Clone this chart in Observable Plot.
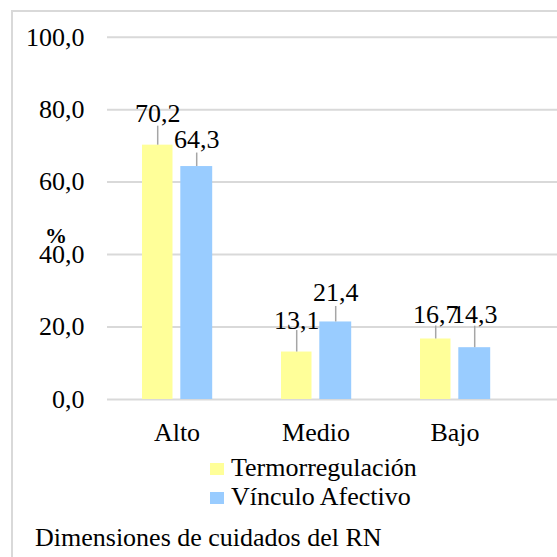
<!DOCTYPE html>
<html>
<head>
<meta charset="utf-8">
<script src="https://cdn.jsdelivr.net/npm/d3@7"></script>
<script src="https://cdn.jsdelivr.net/npm/@observablehq/plot@0.6"></script>
<style>
  @font-face { font-family: 'RefSerif'; src: local('Liberation Serif'), local('LiberationSerif'), local('LiberationSerif-Regular'), local('Times New Roman'); font-weight: normal; }
  @font-face { font-family: 'RefSerif'; src: local('Liberation Serif Bold'), local('LiberationSerif-Bold'), local('Times New Roman Bold'); font-weight: bold; }
  html, body { margin: 0; padding: 0; background: #ffffff; }
  body { position: relative; width: 557px; height: 557px; overflow: hidden; color: #000; }
  #frame { position: absolute; left: 11px; top: 10px; width: 700px; height: 700px;
           border: 2px solid #d9d9d9; box-sizing: border-box; }
  #chart { position: absolute; left: 0; top: 0; }
  .abs { position: absolute; white-space: nowrap; line-height: 29px; }
  .sw { position: absolute; width: 14px; height: 12px; }
</style>
</head>
<body style="font-family:'Liberation Serif', 'RefSerif', 'Times New Roman', Tinos, 'Nimbus Roman', 'DejaVu Serif', serif;">
<div id="frame"></div>
<div id="chart"></div>
<div id="legend"></div>
<div id="ylab" class="abs" style="left:45px; top:221px; font-size:22px; font-weight:bold;">%</div>
<div id="caption" class="abs" style="left:35px; top:523px; font-size:26px;">Dimensiones de cuidados del RN</div>
<script>
const categories = ['Alto', 'Medio', 'Bajo'];
const series = ['Termorregulación', 'Vínculo Afectivo'];
const termorregulacion = [70.2, 13.1, 16.7];
const vinculoAfectivo = [64.3, 21.4, 14.3];
const yTicks = [0, 20, 40, 60, 80, 100];

const FONT = "'Liberation Serif', 'RefSerif', 'Times New Roman', Tinos, 'Nimbus Roman', 'DejaVu Serif', serif";
const colors = ['#ffff99', '#99ccff'];
const leaderLen = [[19, 21.5, 13], [13.5, 15.5, 21.5]];
const labelLift = [[30.5, 31, 23.3], [26, 28.2, 32.2]];
const barInsets = [{left: 35, right: 73.5, dx: -19.3}, {left: 73.3, right: 33.8, dx: 19.7}];

const fmt = v => v.toFixed(1).replace('.', ',');
const values = [termorregulacion, vinculoAfectivo];

const rows = [];
series.forEach((s, si) => categories.forEach((c, ci) => rows.push({
  series: s, si, category: c, value: values[si][ci],
  lead: leaderLen[si][ci], lift: labelLift[si][ci]
})));

const marks = [
  Plot.ruleY(yTicks, {y: d => d, stroke: '#d9d9d9', strokeWidth: 2})
];
series.forEach((s, si) => {
  marks.push(Plot.barY(rows.filter(r => r.si === si), {
    x: 'category', y: 'value', fill: colors[si],
    insetLeft: barInsets[si].left, insetRight: barInsets[si].right
  }));
});
rows.forEach(r => {
  const dx = barInsets[r.si].dx;
  marks.push(Plot.ruleX([r], {
    x: 'category', y1: 'value', y2: 'value', dx,
    insetTop: -r.lead, stroke: '#a6a6a6', strokeWidth: 1.5
  }));
  marks.push(Plot.text([r], {
    x: 'category', y: 'value', text: d => fmt(d.value), dx,
    dy: -(r.lift - 0.29 * 26), lineAnchor: 'bottom', fill: '#000'
  }));
});

const chart = Plot.plot({
  width: 557, height: 455,
  marginLeft: 107, marginRight: 0, marginTop: 36.7, marginBottom: 56,
  style: {fontSize: '26px', fontFamily: FONT, color: '#000', background: 'transparent'},
  x: {domain: categories, range: [107, 524.3], padding: 0, tickSize: 0, tickPadding: 23, label: null},
  y: {domain: [0, 100], ticks: yTicks, tickFormat: fmt, tickSize: 0, tickPadding: 23, label: null},
  marks
});
chart.setAttribute('font-family', FONT);
document.getElementById('chart').appendChild(chart);

const legend = d3.select('#legend');
const rowTop = [452.7, 481.7];
const swTop = [463, 492];
series.forEach((s, i) => {
  legend.append('div').attr('class', 'sw')
    .style('left', '210px').style('top', swTop[i] + 'px').style('background', colors[i]);
  legend.append('div').attr('class', 'abs')
    .style('left', '231px').style('top', rowTop[i] + 'px')
    .style('font-size', '26px').text(s);
});
</script>
</body>
</html>
